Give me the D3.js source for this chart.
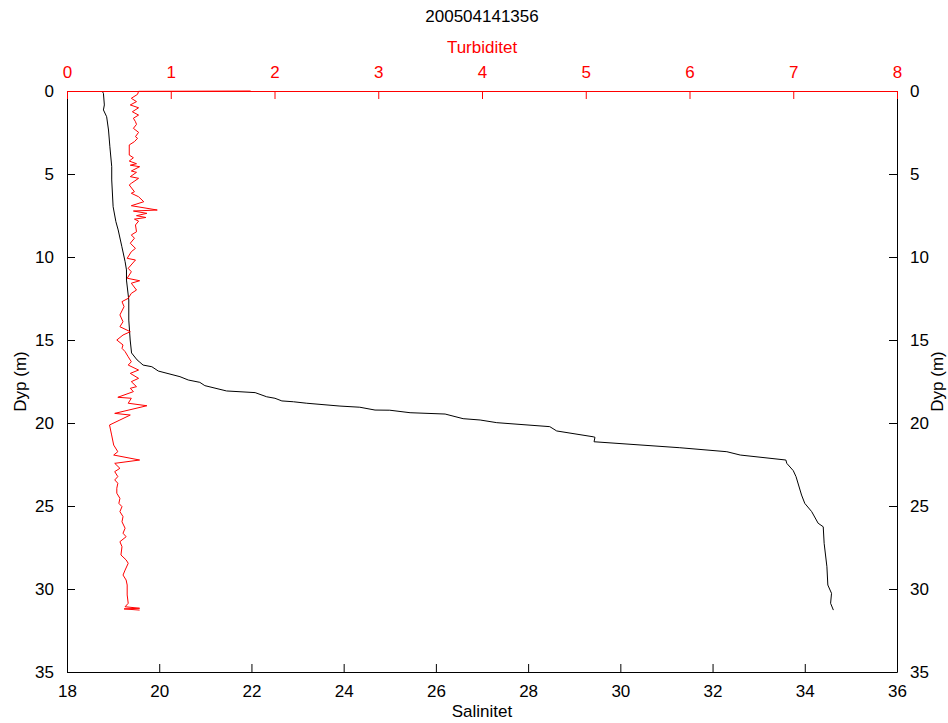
<!DOCTYPE html>
<html>
<head>
<meta charset="utf-8">
<script src="https://cdn.jsdelivr.net/npm/d3@7"></script>
<style>
  html, body { margin: 0; padding: 0; background: #fff; }
  text { font-family: Arial, "Liberation Sans", Helvetica, sans-serif; }
</style>
</head>
<body>
<svg id="chart" width="948" height="723"></svg>
<script>
// ---------- DATA ----------
const title = "200504141356";
const salinityLabel = "Salinitet";
const turbidityLabel = "Turbiditet";
const depthLabel = "Dyp (m)";

const salinityTicks = [18, 20, 22, 24, 26, 28, 30, 32, 34, 36];
const turbidityTicks = [0, 1, 2, 3, 4, 5, 6, 7, 8];
const depthTicks = [0, 5, 10, 15, 20, 25, 30, 35];

// Salinity profile (black)
const salDepth = [0.00, 0.14, 0.84, 1.14, 1.55, 2.35, 3.36, 4.56, 5.36, 6.97, 7.87, 8.37, 9.38, 10.28, 10.78, 11.39, 12.59, 13.80, 15.00, 15.78, 16.20, 16.34, 16.51, 16.61, 16.87, 17.21, 17.41, 17.55, 17.75, 18.07, 18.17, 18.42, 18.51, 18.67, 18.72, 18.81, 18.98, 19.05, 19.22, 19.23, 19.38, 19.46, 19.74, 19.82, 19.98, 20.22, 20.48, 20.83, 20.86, 21.13, 21.49, 21.73, 21.93, 22.23, 22.43, 22.87, 23.23, 24.34, 24.84, 25.34, 26.04, 26.25, 27.25, 28.66, 29.76, 30.26, 30.86, 31.27];
const salinity = [18.76, 18.79, 18.81, 18.79, 18.86, 18.90, 18.93, 18.97, 18.97, 19.00, 19.06, 19.11, 19.19, 19.26, 19.29, 19.29, 19.34, 19.34, 19.37, 19.40, 19.52, 19.58, 19.65, 19.84, 19.98, 20.45, 20.63, 20.88, 20.99, 21.46, 22.08, 22.33, 22.51, 22.66, 22.91, 23.20, 23.92, 24.35, 24.68, 25.00, 25.44, 26.20, 26.59, 26.96, 27.32, 28.47, 28.62, 29.41, 29.45, 29.43, 31.29, 32.31, 32.60, 33.59, 33.61, 33.75, 33.81, 33.93, 34.00, 34.15, 34.29, 34.40, 34.42, 34.48, 34.50, 34.58, 34.56, 34.62];

// Turbidity profile (red)
const turbDepth = [0.00, 0.02, 0.20, 0.44, 0.64, 0.84, 1.01, 1.25, 1.45, 1.64, 1.85, 2.01, 2.25, 2.49, 2.75, 2.85, 3.05, 3.25, 3.86, 4.02, 4.22, 4.38, 4.47, 4.56, 4.82, 4.90, 5.16, 5.26, 5.56, 5.66, 6.07, 6.16, 6.37, 6.67, 6.91, 7.17, 7.23, 7.37, 7.51, 7.62, 7.72, 7.84, 8.07, 8.48, 8.67, 8.87, 9.17, 9.48, 9.68, 10.08, 10.18, 10.68, 10.89, 11.28, 11.43, 11.58, 11.99, 12.19, 12.49, 12.69, 12.99, 13.49, 13.90, 14.20, 14.50, 14.70, 15.00, 15.30, 15.50, 15.70, 16.01, 16.31, 16.51, 16.81, 17.01, 17.31, 17.51, 17.81, 17.91, 18.11, 18.45, 18.51, 18.81, 18.96, 19.42, 19.52, 19.82, 20.12, 20.72, 21.33, 21.73, 21.93, 22.23, 22.43, 22.73, 22.93, 23.23, 23.43, 23.63, 23.93, 24.23, 24.54, 24.84, 25.04, 25.34, 25.64, 25.95, 26.34, 26.64, 26.85, 27.15, 27.45, 27.95, 28.25, 28.45, 28.86, 29.16, 29.46, 29.76, 30.36, 30.86, 31.07, 31.16, 31.20, 31.27];
const turbidity = [1.77, 0.69, 0.68, 0.62, 0.67, 0.61, 0.69, 0.63, 0.69, 0.64, 0.66, 0.67, 0.64, 0.69, 0.66, 0.68, 0.65, 0.60, 0.60, 0.64, 0.60, 0.67, 0.61, 0.70, 0.62, 0.67, 0.61, 0.69, 0.62, 0.60, 0.65, 0.62, 0.69, 0.74, 0.62, 0.87, 0.64, 0.77, 0.67, 0.76, 0.65, 0.69, 0.66, 0.67, 0.62, 0.65, 0.61, 0.66, 0.62, 0.58, 0.66, 0.59, 0.62, 0.58, 0.70, 0.62, 0.67, 0.62, 0.59, 0.53, 0.55, 0.51, 0.54, 0.51, 0.61, 0.54, 0.48, 0.54, 0.53, 0.56, 0.59, 0.62, 0.59, 0.69, 0.61, 0.69, 0.62, 0.67, 0.61, 0.64, 0.49, 0.62, 0.59, 0.77, 0.46, 0.61, 0.51, 0.41, 0.43, 0.45, 0.49, 0.45, 0.70, 0.46, 0.51, 0.46, 0.49, 0.46, 0.49, 0.48, 0.48, 0.51, 0.50, 0.53, 0.51, 0.54, 0.53, 0.56, 0.54, 0.57, 0.51, 0.53, 0.52, 0.57, 0.59, 0.56, 0.54, 0.57, 0.58, 0.58, 0.59, 0.56, 0.70, 0.55, 0.70, 0.55];

// ---------- LAYOUT ----------
const L = 67, R = 897, T = 91, B = 672;
const tickLen = 8;
const fontSize = 17;
const red = "#ff0000";

const svg = d3.select("#chart");

const xSal = d3.scaleLinear().domain([18, 36]).range([L, R]);
const xTurb = d3.scaleLinear().domain([0, 8]).range([L, R]);
const yDepth = d3.scaleLinear().domain([0, 35]).range([T, B]);

// Data lines
const salLine = d3.line().x(d => xSal(d[1])).y(d => yDepth(d[0]));
svg.append("path")
  .datum(salDepth.map((d, i) => [d, salinity[i]]))
  .attr("d", salLine)
  .attr("fill", "none").attr("stroke", "#000").attr("stroke-width", 1);

const turbLine = d3.line().x(d => xTurb(d[1])).y(d => yDepth(d[0]));
svg.append("path")
  .datum(turbDepth.map((d, i) => [d, turbidity[i]]))
  .attr("d", turbLine)
  .attr("fill", "none").attr("stroke", red).attr("stroke-width", 1);

// Axes
function styleAxis(g, color) {
  g.selectAll("path.domain").attr("stroke", color).attr("stroke-width", 1);
  g.selectAll(".tick line").attr("stroke", color);
  g.selectAll(".tick text")
    .attr("fill", color)
    .style("font-size", fontSize + "px")
    .style("font-family", "Arial, 'Liberation Sans', sans-serif");
}

// Bottom salinity axis (ticks inward)
const gB = svg.append("g").attr("transform", `translate(0,${B})`)
  .call(d3.axisBottom(xSal).tickValues(salinityTicks).tickFormat(d3.format("d"))
    .tickSizeInner(-tickLen).tickSizeOuter(0).tickPadding(tickLen + 5));
styleAxis(gB, "#000");

// Left depth axis
const gL = svg.append("g").attr("transform", `translate(${L},0)`)
  .call(d3.axisLeft(yDepth).tickValues(depthTicks).tickFormat(d3.format("d"))
    .tickSizeInner(-tickLen).tickSizeOuter(0).tickPadding(tickLen + 5));
styleAxis(gL, "#000");

// Right depth axis
const gR = svg.append("g").attr("transform", `translate(${R},0)`)
  .call(d3.axisRight(yDepth).tickValues(depthTicks).tickFormat(d3.format("d"))
    .tickSizeInner(-tickLen).tickSizeOuter(0).tickPadding(tickLen + 5));
styleAxis(gR, "#000");

// Top turbidity axis (red)
const gT = svg.append("g").attr("transform", `translate(0,${T})`)
  .call(d3.axisTop(xTurb).tickValues(turbidityTicks).tickFormat(d3.format("d"))
    .tickSizeInner(-tickLen).tickSizeOuter(0).tickPadding(tickLen + 5));
styleAxis(gT, red);

// Labels
svg.append("text").attr("x", (L + R) / 2).attr("y", 22)
  .attr("text-anchor", "middle").style("font-size", fontSize + "px").text(title);
svg.append("text").attr("x", (L + R) / 2).attr("y", 53)
  .attr("text-anchor", "middle").attr("fill", red).style("font-size", fontSize + "px").text(turbidityLabel);
svg.append("text").attr("x", (L + R) / 2).attr("y", 717)
  .attr("text-anchor", "middle").style("font-size", fontSize + "px").text(salinityLabel);
svg.append("text").attr("transform", `translate(26,${(T + B) / 2}) rotate(-90)`)
  .attr("text-anchor", "middle").style("font-size", fontSize + "px").text(depthLabel);
svg.append("text").attr("transform", `translate(943,${(T + B) / 2}) rotate(-90)`)
  .attr("text-anchor", "middle").style("font-size", fontSize + "px").text(depthLabel);
</script>
</body>
</html>
